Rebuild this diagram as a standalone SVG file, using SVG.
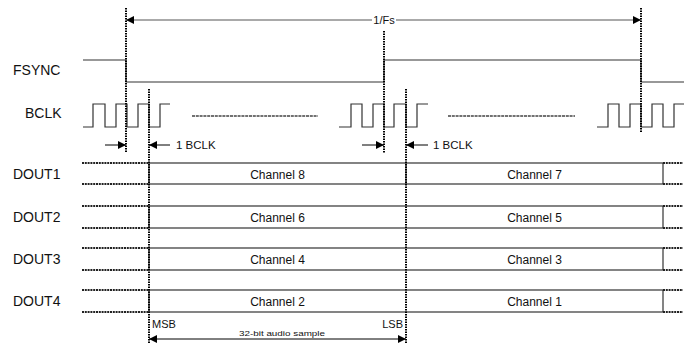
<svg xmlns="http://www.w3.org/2000/svg" width="691" height="343" viewBox="0 0 691 343">
<style>
text{font-family:"Liberation Sans",Arial,sans-serif;fill:#111}
.lbl{font-size:14px}
.ch{font-size:12px;text-anchor:middle}
.sm{font-size:11.5px}
.sig{fill:none;stroke:#333;stroke-width:1.2}
.vd{stroke:#000;stroke-width:2;stroke-dasharray:1.5,1}
.dot{stroke:#222;stroke-width:1.8;stroke-dasharray:2,0.8}
.dash{stroke:#444;stroke-width:1.5;stroke-dasharray:3,0.8}
.box{fill:#fff;stroke:#333;stroke-width:1.2}
.arr{stroke:#000;stroke-width:1;fill:none}
.fs{stroke:#555;stroke-width:1;fill:none}
</style>
<defs>
<marker id="ah" viewBox="0 0 10 10" refX="10" refY="5" markerWidth="8" markerHeight="8" markerUnits="userSpaceOnUse" orient="auto-start-reverse"><path d="M0,0L10,5L0,10z" fill="#000"/></marker>
</defs>
<g id="labels">
<text class="lbl" x="13" y="75">FSYNC</text>
<text class="lbl" x="25" y="118">BCLK</text>
<text class="lbl" x="13" y="178.5">DOUT1</text>
<text class="lbl" x="13" y="222">DOUT2</text>
<text class="lbl" x="13" y="264">DOUT3</text>
<text class="lbl" x="13" y="306">DOUT4</text>
</g>
<g id="fsync">
<polyline class="sig" points="83,60 126,60 126,82 384,82 384,60 641,60 641,82 684,82"/>
</g>
<g id="bclk">
<polyline class="sig" points="83,127 93,127 93,104 105,104 105,127 116,127 116,104 127,104 127,127 138,127 138,104 149,104 149,127 160,127 160,104 170,104"/>
<polyline class="sig" points="339,127 351,127 351,104 362,104 362,127 373,127 373,104 384,104 384,127 394,127 394,104 406,104 406,127 417,127 417,104 428,104"/>
<polyline class="sig" points="597,127 608,127 608,104 619,104 619,127 630,127 630,104 641,104 641,127 652,127 652,104 663,104 663,127 674,127 674,104 684,104"/>
<line class="dash" x1="192" y1="116" x2="318" y2="116"/>
<line class="dash" x1="448" y1="116" x2="575" y2="116"/>
</g>
<g id="dout">
<g id="dout1">
<rect class="box" x="149" y="163" width="514" height="21"/>
<line class="sig" x1="406" y1="163" x2="406" y2="184"/>
<text class="ch" x="277.5" y="178.5">Channel 8</text>
<text class="ch" x="534.5" y="178.5">Channel 7</text>
</g>
<g id="dout2">
<rect class="box" x="149" y="206" width="514" height="22"/>
<text class="ch" x="277.5" y="221.5">Channel 6</text>
<text class="ch" x="534.5" y="221.5">Channel 5</text>
</g>
<g id="dout3">
<rect class="box" x="149" y="248" width="514" height="22"/>
<text class="ch" x="277.5" y="263.5">Channel 4</text>
<text class="ch" x="534.5" y="263.5">Channel 3</text>
</g>
<g id="dout4">
<rect class="box" x="149" y="290" width="514" height="22"/>
<text class="ch" x="277.5" y="305.5">Channel 2</text>
<text class="ch" x="534.5" y="305.5">Channel 1</text>
</g>
<g id="dotted-ends">
<line class="dot" x1="82" y1="163" x2="149" y2="163"/>
<line class="dot" x1="82" y1="184" x2="149" y2="184"/>
<line class="dot" x1="82" y1="206" x2="149" y2="206"/>
<line class="dot" x1="82" y1="228" x2="149" y2="228"/>
<line class="dot" x1="82" y1="248" x2="149" y2="248"/>
<line class="dot" x1="82" y1="270" x2="149" y2="270"/>
<line class="dot" x1="82" y1="290" x2="149" y2="290"/>
<line class="dot" x1="82" y1="312" x2="149" y2="312"/>
<line class="dot" x1="663" y1="163" x2="683" y2="163"/>
<line class="dot" x1="663" y1="184" x2="683" y2="184"/>
<line class="dot" x1="663" y1="206" x2="683" y2="206"/>
<line class="dot" x1="663" y1="228" x2="683" y2="228"/>
<line class="dot" x1="663" y1="248" x2="683" y2="248"/>
<line class="dot" x1="663" y1="270" x2="683" y2="270"/>
<line class="dot" x1="663" y1="290" x2="683" y2="290"/>
<line class="dot" x1="663" y1="312" x2="683" y2="312"/>
</g>
</g>
<g id="connectors">
<line class="vd" x1="126" y1="8" x2="126" y2="153"/>
<line class="vd" x1="384" y1="31" x2="384" y2="153"/>
<line class="vd" x1="641" y1="8" x2="641" y2="133"/>
<line class="vd" x1="149" y1="89" x2="149" y2="343"/>
<line class="vd" x1="406" y1="89" x2="406" y2="343"/>
<line class="fs" x1="126" y1="20" x2="372" y2="20" marker-start="url(#ah)"/>
<line class="fs" x1="396" y1="20" x2="641" y2="20" marker-end="url(#ah)"/>
<text x="384" y="24" style="font-size:11px;text-anchor:middle">1/Fs</text>
<line class="arr" x1="105" y1="145" x2="126" y2="145" marker-end="url(#ah)"/>
<line class="arr" x1="170" y1="145" x2="149" y2="145" marker-end="url(#ah)"/>
<text class="sm" x="176" y="149">1 BCLK</text>
<line class="arr" x1="362" y1="145" x2="384" y2="145" marker-end="url(#ah)"/>
<line class="arr" x1="428" y1="145" x2="406" y2="145" marker-end="url(#ah)"/>
<text class="sm" x="433" y="149">1 BCLK</text>
<line class="arr" x1="149" y1="339" x2="406" y2="339" marker-start="url(#ah)" marker-end="url(#ah)"/>
<text x="152" y="328" style="font-size:11px">MSB</text>
<text x="403" y="328" style="font-size:11px;text-anchor:end">LSB</text>
<text x="239" y="336" style="font-size:8px" textLength="86" lengthAdjust="spacingAndGlyphs">32-bit audio sample</text>
</g>
</svg>
